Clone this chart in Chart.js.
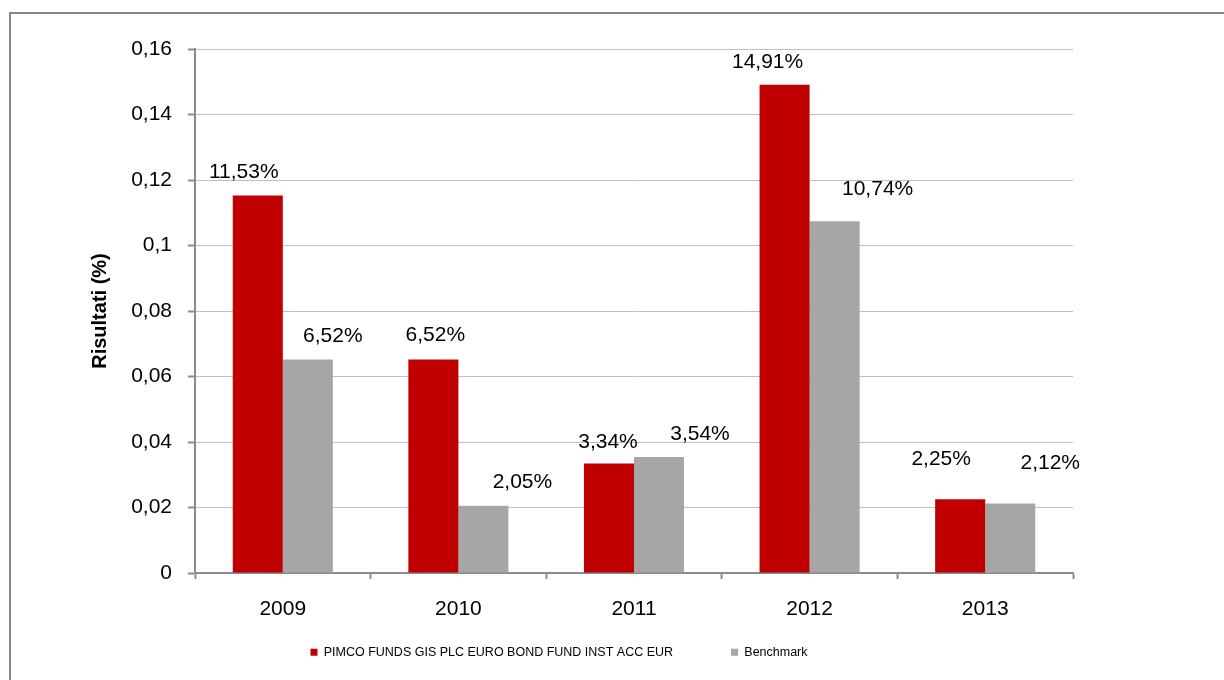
<!DOCTYPE html>
<html>
<head>
<meta charset="utf-8">
<script src="https://cdn.jsdelivr.net/npm/chart.js@4.4.1/dist/chart.umd.min.js"></script>
<style>
  html, body { margin: 0; padding: 0; background: #ffffff; overflow: hidden; }
  #frame { position: absolute; left: 9px; top: 12px; width: 1400px; height: 900px;
           border-left: 2px solid #878787; border-top: 2px solid #878787; }
  #wrap { position: absolute; left: 0; top: 0; width: 1224px; height: 680px; }
</style>
</head>
<body>
<div id="frame"></div>
<div id="wrap"><canvas id="c" width="1224" height="680"></canvas></div>
<script>
// ---- data ----
const categories = ['2009', '2010', '2011', '2012', '2013'];
const fundName = 'PIMCO FUNDS GIS PLC EURO BOND FUND INST ACC EUR';
const benchName = 'Benchmark';
const fundValues = [0.1153, 0.0652, 0.0334, 0.1491, 0.0225];
const benchValues = [0.0652, 0.0205, 0.0354, 0.1074, 0.0212];
const yTickLabels = ['0', '0,02', '0,04', '0,06', '0,08', '0,1', '0,12', '0,14', '0,16'];
const yTitle = 'Risultati (%)';

// label placement (offsets from bar top centre), styling only
const fundLabelShift = [[-14, 23], [2, 24], [-1, 21], [-17, 22], [-19, 40]];
const benchLabelShift = [[25, 23], [39, 24], [41, 23], [43, 32], [40, 40]];

const FONT = "'Liberation Sans', Arial, sans-serif";
const LEGEND_TOP = 588;

const valueLabels = {
  id: 'valueLabels',
  afterLayout(chart) {
    // move the legend box up closer to the axis labels
    const lg = chart.legend;
    if (lg) {
      lg.top = LEGEND_TOP;
      lg.bottom = chart.height;
      lg.height = chart.height - LEGEND_TOP;
    }
  },
  afterDatasetsDraw(chart) {
    const ctx = chart.ctx;
    const shifts = [fundLabelShift, benchLabelShift];
    ctx.save();
    ctx.font = '21px ' + FONT;
    ctx.fillStyle = '#000000';
    ctx.textAlign = 'center';
    ctx.textBaseline = 'middle';
    chart.data.datasets.forEach((ds, di) => {
      const meta = chart.getDatasetMeta(di);
      meta.data.forEach((bar, i) => {
        const v = ds.data[i];
        const txt = (v * 100).toFixed(2).replace('.', ',') + '%';
        const s = shifts[di][i];
        ctx.fillText(txt, bar.x + s[0], bar.y - s[1]);
      });
    });
    ctx.restore();
  }
};

new Chart(document.getElementById('c'), {
  type: 'bar',
  data: {
    labels: categories,
    datasets: [
      { label: fundName, data: fundValues, backgroundColor: '#C00000', borderWidth: 0,
        categoryPercentage: 0.57, barPercentage: 1.0 },
      { label: benchName, data: benchValues, backgroundColor: '#A6A6A6', borderWidth: 0,
        categoryPercentage: 0.57, barPercentage: 1.0 }
    ]
  },
  options: {
    responsive: false,
    animation: false,
    devicePixelRatio: 1,
    layout: { padding: { left: 45, right: 151, top: 49, bottom: 0 } },
    plugins: {
      tooltip: { enabled: false },
      legend: {
        position: 'bottom',
        maxHeight: 47,
        labels: {
          boxWidth: 7, boxHeight: 7, padding: 58,
          color: '#000000',
          font: { family: FONT, size: 12.5 }
        }
      }
    },
    scales: {
      x: {
        afterFit(scale) { scale.height = 60; },
        grid: { display: true, drawOnChartArea: false, drawTicks: true, offset: true,
                tickLength: 6, tickColor: '#8c8c8c', tickWidth: 2 },
        border: { display: true, color: '#8c8c8c', width: 2 },
        ticks: { color: '#000000', padding: 18, maxRotation: 0,
                 font: { family: FONT, size: 21 } }
      },
      y: {
        min: 0, max: 0.16,
        afterFit(scale) { scale.width = 150; },
        ticks: {
          stepSize: 0.02, color: '#000000', padding: 16,
          font: { family: FONT, size: 21 },
          callback: (v, i) => yTickLabels[i]
        },
        grid: { color: '#c0c0c0', lineWidth: 1, drawTicks: true, tickLength: 7,
                tickColor: '#8c8c8c', tickWidth: 2 },
        border: { display: true, color: '#8c8c8c', width: 2 },
        title: {
          display: true, text: yTitle, color: '#000000',
          font: { family: FONT, size: 20, weight: 'bold' },
          padding: { top: 43, bottom: 0 }
        }
      }
    }
  },
  plugins: [valueLabels]
});
</script>
</body>
</html>
